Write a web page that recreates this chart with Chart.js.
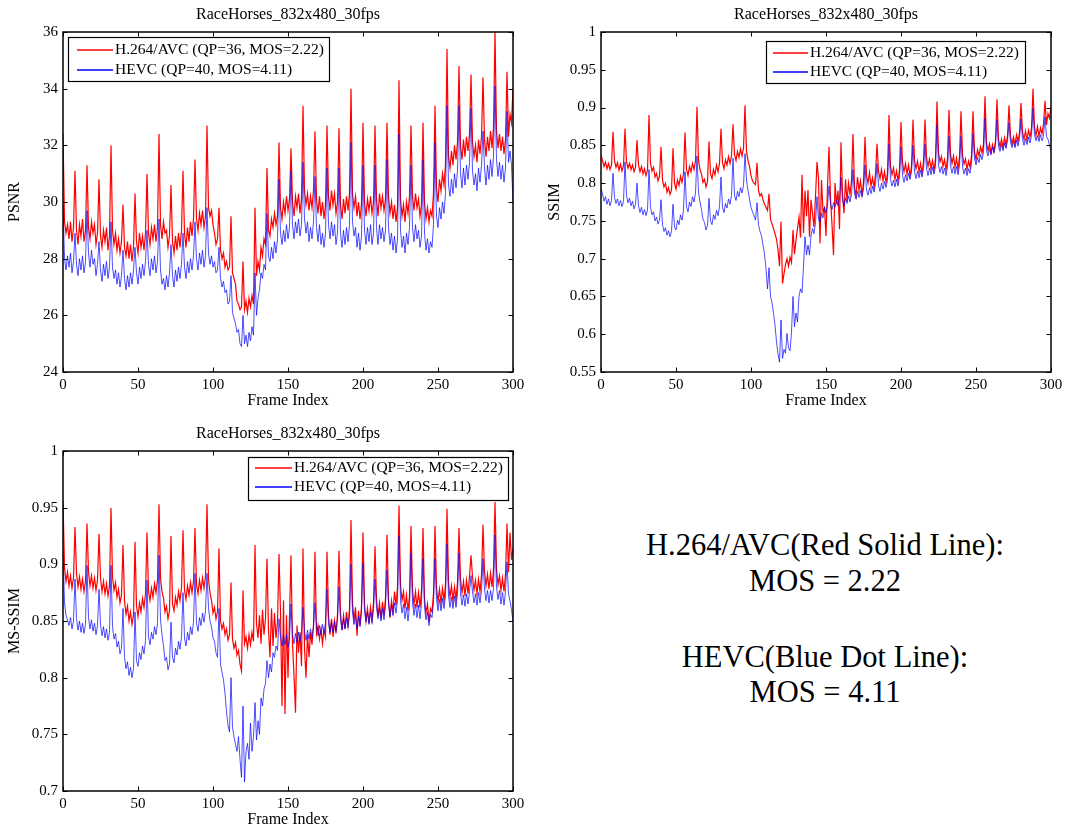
<!DOCTYPE html>
<html>
<head>
<meta charset="utf-8">
<title>RaceHorses_832x480_30fps</title>
<script src="https://cdn.jsdelivr.net/npm/chart.js@4.4.0/dist/chart.umd.min.js"></script>
<style>
  body { margin: 0; background: #fff; width: 1067px; height: 833px; position: relative; overflow: hidden; font-family: "Liberation Serif", "Times New Roman", serif; }
  .plot { position: absolute; }
  .note { position: absolute; left: 600px; width: 450px; text-align: center; font-size: 30.5px; line-height: 30px; color: #000; white-space: nowrap; }
</style>
</head>
<body>
<div class="plot" style="left:0;top:0"><canvas id="psnr" width="530" height="420"></canvas></div>
<div class="plot" style="left:540px;top:0"><canvas id="ssim" width="527" height="420"></canvas></div>
<div class="plot" style="left:0;top:420px"><canvas id="msssim" width="530" height="413"></canvas></div>
<div class="note" style="top:530px">H.264/AVC(Red Solid Line):</div>
<div class="note" style="top:566px">MOS = 2.22</div>
<div class="note" style="top:642px">HEVC(Blue Dot Line):</div>
<div class="note" style="top:677px">MOS = 4.11</div>
<script>
const serif = '"Liberation Serif", "Times New Roman", serif'
Chart.defaults.font.family = serif
Chart.defaults.color = '#000'

const seqName = 'RaceHorses_832x480_30fps'
const avcLabel = 'H.264/AVC (QP=36, MOS=2.22)'
const hevcLabel = 'HEVC (QP=40, MOS=4.11)'

// frame numbers 0..300
const frames = Array.from({ length: 301 }, (_, i) => i)

// per-frame PSNR (dB), one row per 8-frame GOP
const psnrAvc = [
  32.4,29.3,28.9,29.2,28.7,29.3,28.6,29.1,
  31.1,29.0,28.5,29.2,28.8,29.4,28.6,29.0,
  31.3,29.1,28.7,29.3,28.9,29.2,28.5,28.9,
  30.8,28.8,28.4,29.0,28.6,29.1,28.3,28.8,
  32.0,29.0,28.5,28.9,28.3,28.7,28.2,28.6,
  29.9,28.4,28.1,28.6,28.0,28.5,27.9,28.4,
  30.3,28.6,28.2,28.9,28.4,28.8,28.3,28.9,
  31.0,28.9,28.5,29.1,28.7,29.2,28.6,29.1,
  32.4,29.2,28.7,29.3,28.9,29.0,28.4,28.8,
  30.6,28.6,28.2,28.8,28.3,28.9,28.4,29.0,
  31.1,28.9,28.4,29.1,28.6,29.3,28.8,29.4,
  31.5,29.4,29.0,29.6,29.2,29.7,29.1,29.5,
  32.7,29.8,29.5,29.7,29.2,28.9,28.5,28.7,
  29.8,28.3,28.0,28.2,27.7,27.9,27.6,27.7,
  29.5,27.5,27.3,27.1,26.5,26.4,26.2,26.3,
  27.9,26.2,26.5,26.1,26.6,26.3,26.7,26.4,
  29.8,27.4,27.9,27.6,28.4,28.1,28.7,28.5,
  31.2,29.0,28.8,29.4,29.1,29.6,29.2,29.5,
  32.1,29.8,29.4,30.0,29.6,30.2,29.7,30.1,
  31.9,30.0,29.5,30.2,29.8,30.3,29.6,30.1,
  33.4,30.4,29.9,30.3,29.7,30.2,29.8,30.4,
  32.5,30.1,29.6,30.2,29.5,30.0,29.4,29.9,
  32.7,30.2,29.7,30.4,29.9,30.3,29.6,30.0,
  32.6,29.9,29.4,30.1,29.6,30.2,29.7,30.3,
  34.0,30.3,29.8,30.2,29.5,30.0,29.4,29.9,
  32.8,30.0,29.5,30.1,29.7,30.2,29.6,30.0,
  32.7,30.1,29.5,30.3,29.8,30.2,29.7,30.1,
  32.8,30.2,29.6,30.0,29.4,29.9,29.3,29.8,
  34.3,30.1,29.5,29.9,29.3,30.0,29.6,30.2,
  32.7,30.2,29.7,30.3,29.8,30.1,29.5,29.9,
  32.8,30.0,29.4,29.8,29.3,29.7,29.5,30.3,
  33.4,30.5,30.0,30.8,30.4,31.0,30.6,31.3,
  35.4,31.6,31.2,31.8,31.3,32.0,31.5,32.1,
  34.8,32.0,31.5,32.2,31.6,32.3,31.8,32.4,
  34.5,32.1,31.6,32.0,31.4,32.2,31.7,32.3,
  34.4,32.2,31.6,32.3,31.8,32.5,31.9,32.6,
  36.0,32.5,31.9,32.4,31.8,32.3,31.7,32.2,
  34.6,32.3,33.1,32.8,34.0
]
const psnrHevc = [
  29.9,28.0,27.6,28.1,27.7,28.2,27.5,27.9,
  28.9,27.8,27.4,28.0,27.6,28.1,27.5,27.9,
  29.7,28.2,27.7,28.3,27.8,28.0,27.4,27.8,
  28.6,27.6,27.2,27.8,27.4,27.9,27.3,27.7,
  29.3,27.7,27.3,27.6,27.1,27.5,27.0,27.4,
  28.3,27.3,26.9,27.4,27.0,27.5,27.1,27.6,
  28.4,27.5,27.1,27.7,27.3,27.8,27.4,27.9,
  29.0,27.8,27.4,28.0,27.6,28.1,27.5,27.9,
  29.4,27.6,27.1,27.3,26.9,27.4,27.0,27.5,
  28.5,27.4,27.0,27.6,27.2,27.7,27.3,27.8,
  28.9,27.7,27.3,27.9,27.5,28.0,27.6,28.1,
  29.3,28.0,27.6,28.2,27.8,28.3,27.7,28.1,
  29.8,28.2,27.8,28.1,27.7,27.9,27.5,27.6,
  28.4,27.3,27.0,27.2,26.8,26.9,26.4,26.5,
  27.4,26.1,25.9,25.7,25.4,25.5,25.0,24.9,
  26.0,25.0,25.3,24.9,25.4,25.1,25.6,25.3,
  27.5,26.0,26.6,26.9,27.5,27.3,27.8,27.6,
  29.6,28.1,27.9,28.4,28.0,28.6,28.2,28.7,
  30.8,28.9,28.5,29.0,28.6,29.2,28.7,29.1,
  31.1,29.2,28.7,29.3,28.9,29.4,28.8,29.2,
  31.4,29.4,28.9,29.3,28.6,29.1,28.7,29.3,
  30.9,29.1,28.6,29.2,28.5,28.9,28.4,28.9,
  31.2,29.2,28.7,29.3,28.8,29.2,28.5,28.9,
  31.2,28.9,28.4,29.0,28.5,29.1,28.6,29.2,
  32.1,29.3,28.8,29.1,28.4,28.9,28.3,28.8,
  31.3,29.0,28.5,29.1,28.6,29.2,28.5,28.9,
  31.3,29.1,28.5,29.2,28.7,29.1,28.6,29.0,
  31.5,29.1,28.5,28.9,28.3,28.8,28.2,28.7,
  32.4,29.0,28.4,28.8,28.2,28.9,28.5,29.1,
  31.3,29.1,28.6,29.2,28.7,29.0,28.4,28.8,
  31.5,28.9,28.3,28.7,28.2,28.6,28.4,29.2,
  32.1,29.5,29.1,29.8,29.4,30.0,29.6,30.3,
  33.4,30.6,30.2,30.8,30.3,31.0,30.5,31.1,
  33.4,31.0,30.5,31.2,30.6,31.3,30.8,31.4,
  33.3,31.1,30.6,31.0,30.4,31.2,30.7,31.3,
  32.5,31.2,30.6,31.3,30.8,31.5,30.9,31.6,
  34.1,31.5,30.9,31.4,30.8,31.3,30.7,31.2,
  33.2,31.4,31.8,31.3,30.0
]

// per-frame SSIM
const ssimAvc = [
  0.837,0.830,0.822,0.828,0.819,0.826,0.818,0.824,
  0.868,0.829,0.821,0.827,0.817,0.825,0.816,0.823,
  0.872,0.828,0.820,0.826,0.818,0.824,0.815,0.821,
  0.857,0.824,0.815,0.822,0.812,0.819,0.810,0.817,
  0.890,0.826,0.816,0.821,0.808,0.813,0.803,0.809,
  0.848,0.804,0.795,0.800,0.788,0.794,0.785,0.791,
  0.846,0.800,0.792,0.804,0.797,0.809,0.801,0.812,
  0.867,0.818,0.810,0.822,0.815,0.826,0.818,0.829,
  0.901,0.830,0.818,0.812,0.801,0.805,0.795,0.802,
  0.855,0.812,0.806,0.818,0.811,0.824,0.815,0.826,
  0.872,0.827,0.819,0.831,0.824,0.835,0.826,0.836,
  0.878,0.838,0.830,0.842,0.834,0.845,0.836,0.846,
  0.903,0.842,0.830,0.822,0.810,0.803,0.800,0.798,
  0.827,0.790,0.783,0.786,0.778,0.772,0.768,0.764,
  0.786,0.752,0.746,0.740,0.733,0.726,0.712,0.690,
  0.749,0.667,0.680,0.692,0.700,0.690,0.702,0.695,
  0.738,0.706,0.725,0.740,0.755,0.728,0.811,0.734,
  0.790,0.756,0.791,0.729,0.778,0.760,0.742,0.782,
  0.828,0.806,0.720,0.804,0.762,0.767,0.730,0.795,
  0.848,0.780,0.745,0.705,0.800,0.772,0.790,0.739,
  0.854,0.786,0.760,0.805,0.776,0.800,0.785,0.803,
  0.865,0.795,0.783,0.808,0.790,0.803,0.785,0.800,
  0.861,0.810,0.800,0.814,0.796,0.807,0.794,0.812,
  0.852,0.816,0.806,0.818,0.803,0.815,0.801,0.813,
  0.890,0.822,0.811,0.820,0.805,0.816,0.803,0.818,
  0.881,0.827,0.815,0.826,0.812,0.824,0.810,0.822,
  0.884,0.830,0.819,0.829,0.815,0.826,0.813,0.828,
  0.884,0.834,0.822,0.832,0.819,0.830,0.817,0.831,
  0.908,0.840,0.828,0.835,0.822,0.831,0.818,0.832,
  0.897,0.839,0.826,0.836,0.821,0.833,0.819,0.834,
  0.895,0.838,0.825,0.832,0.818,0.829,0.821,0.836,
  0.895,0.842,0.831,0.844,0.836,0.848,0.840,0.851,
  0.915,0.853,0.843,0.852,0.840,0.851,0.842,0.856,
  0.911,0.858,0.848,0.858,0.847,0.860,0.850,0.862,
  0.903,0.862,0.852,0.861,0.851,0.864,0.855,0.867,
  0.906,0.868,0.858,0.869,0.857,0.870,0.861,0.872,
  0.925,0.874,0.863,0.875,0.862,0.873,0.865,0.878,
  0.909,0.877,0.892,0.886,0.901
]
const ssimHevc = [
  0.793,0.786,0.776,0.782,0.772,0.779,0.770,0.777,
  0.813,0.781,0.773,0.779,0.770,0.777,0.769,0.776,
  0.828,0.784,0.774,0.780,0.770,0.776,0.766,0.772,
  0.800,0.770,0.761,0.768,0.758,0.765,0.757,0.764,
  0.818,0.768,0.758,0.762,0.750,0.755,0.746,0.751,
  0.778,0.745,0.736,0.741,0.731,0.737,0.729,0.736,
  0.772,0.742,0.738,0.751,0.745,0.758,0.751,0.764,
  0.815,0.769,0.762,0.775,0.769,0.782,0.775,0.787,
  0.836,0.788,0.775,0.765,0.752,0.748,0.738,0.744,
  0.780,0.750,0.745,0.758,0.752,0.764,0.757,0.769,
  0.808,0.768,0.761,0.773,0.767,0.779,0.772,0.784,
  0.833,0.784,0.777,0.789,0.782,0.794,0.787,0.797,
  0.839,0.804,0.790,0.779,0.768,0.762,0.757,0.751,
  0.774,0.745,0.736,0.730,0.718,0.706,0.687,0.660,
  0.688,0.650,0.642,0.628,0.612,0.590,0.574,0.563,
  0.619,0.568,0.580,0.575,0.601,0.582,0.578,0.603,
  0.650,0.610,0.628,0.616,0.650,0.660,0.655,0.690,
  0.729,0.705,0.718,0.705,0.730,0.740,0.733,0.748,
  0.782,0.752,0.748,0.760,0.754,0.768,0.760,0.771,
  0.796,0.772,0.765,0.774,0.768,0.778,0.770,0.779,
  0.808,0.778,0.770,0.780,0.773,0.783,0.775,0.785,
  0.818,0.786,0.779,0.789,0.781,0.790,0.782,0.792,
  0.824,0.791,0.784,0.794,0.786,0.796,0.788,0.798,
  0.826,0.797,0.789,0.800,0.792,0.802,0.794,0.804,
  0.852,0.805,0.796,0.804,0.795,0.805,0.796,0.808,
  0.848,0.810,0.801,0.811,0.803,0.813,0.805,0.815,
  0.850,0.815,0.806,0.816,0.807,0.817,0.808,0.819,
  0.852,0.819,0.810,0.820,0.811,0.821,0.812,0.822,
  0.877,0.824,0.814,0.822,0.812,0.820,0.810,0.821,
  0.862,0.823,0.813,0.822,0.812,0.822,0.811,0.823,
  0.862,0.822,0.812,0.820,0.810,0.819,0.813,0.826,
  0.866,0.832,0.824,0.834,0.827,0.838,0.831,0.841,
  0.886,0.843,0.836,0.845,0.838,0.848,0.840,0.850,
  0.884,0.849,0.842,0.851,0.843,0.853,0.846,0.856,
  0.880,0.854,0.847,0.855,0.847,0.857,0.849,0.859,
  0.885,0.858,0.850,0.859,0.851,0.861,0.853,0.863,
  0.899,0.864,0.856,0.863,0.855,0.864,0.856,0.862,
  0.888,0.862,0.858,0.850,0.843
]

// per-frame MS-SSIM
const msssimAvc = [
  0.956,0.897,0.885,0.893,0.881,0.890,0.879,0.888,
  0.933,0.892,0.880,0.889,0.878,0.887,0.876,0.885,
  0.936,0.893,0.881,0.890,0.879,0.888,0.877,0.886,
  0.927,0.888,0.876,0.885,0.874,0.883,0.872,0.881,
  0.950,0.889,0.877,0.884,0.871,0.878,0.866,0.873,
  0.917,0.868,0.856,0.863,0.850,0.858,0.847,0.855,
  0.920,0.863,0.854,0.866,0.858,0.870,0.862,0.874,
  0.928,0.876,0.868,0.879,0.871,0.883,0.875,0.886,
  0.953,0.888,0.876,0.870,0.858,0.863,0.852,0.859,
  0.925,0.865,0.859,0.871,0.864,0.876,0.868,0.879,
  0.930,0.877,0.869,0.881,0.873,0.884,0.875,0.885,
  0.932,0.882,0.874,0.886,0.877,0.888,0.879,0.889,
  0.953,0.887,0.875,0.868,0.857,0.862,0.852,0.858,
  0.914,0.850,0.843,0.848,0.838,0.843,0.833,0.838,
  0.884,0.834,0.826,0.831,0.820,0.824,0.812,0.806,
  0.877,0.830,0.836,0.826,0.838,0.829,0.840,0.832,
  0.917,0.848,0.835,0.855,0.830,0.860,0.838,0.852,
  0.905,0.842,0.818,0.861,0.828,0.857,0.835,0.849,
  0.909,0.858,0.775,0.868,0.768,0.855,0.800,0.853,
  0.908,0.830,0.802,0.769,0.846,0.822,0.840,0.810,
  0.914,0.826,0.800,0.838,0.818,0.840,0.829,0.846,
  0.911,0.839,0.846,0.834,0.843,0.830,0.842,0.836,
  0.911,0.855,0.838,0.852,0.836,0.850,0.839,0.856,
  0.912,0.857,0.842,0.855,0.843,0.858,0.846,0.860,
  0.939,0.866,0.851,0.862,0.837,0.859,0.846,0.863,
  0.928,0.865,0.850,0.861,0.848,0.862,0.851,0.866,
  0.916,0.869,0.854,0.866,0.852,0.867,0.855,0.870,
  0.926,0.869,0.853,0.868,0.858,0.876,0.864,0.880,
  0.952,0.882,0.868,0.876,0.861,0.873,0.859,0.872,
  0.934,0.878,0.864,0.876,0.862,0.875,0.862,0.877,
  0.932,0.870,0.857,0.865,0.849,0.861,0.858,0.874,
  0.934,0.880,0.867,0.878,0.866,0.879,0.868,0.882,
  0.949,0.884,0.871,0.881,0.868,0.880,0.869,0.884,
  0.932,0.887,0.875,0.885,0.872,0.886,0.874,0.889,
  0.908,0.889,0.877,0.886,0.874,0.887,0.876,0.890,
  0.935,0.894,0.881,0.891,0.878,0.892,0.880,0.895,
  0.955,0.896,0.882,0.890,0.877,0.888,0.876,0.891,
  0.936,0.893,0.928,0.904,0.914
]
const msssimHevc = [
  0.912,0.866,0.855,0.851,0.846,0.853,0.843,0.850,
  0.887,0.852,0.842,0.850,0.840,0.848,0.839,0.847,
  0.899,0.853,0.843,0.851,0.841,0.848,0.838,0.846,
  0.878,0.847,0.837,0.845,0.835,0.843,0.833,0.840,
  0.899,0.845,0.834,0.839,0.827,0.832,0.821,0.826,
  0.861,0.818,0.808,0.814,0.802,0.809,0.800,0.808,
  0.858,0.815,0.810,0.822,0.816,0.828,0.821,0.833,
  0.886,0.836,0.829,0.840,0.834,0.845,0.838,0.848,
  0.908,0.851,0.838,0.828,0.815,0.818,0.807,0.812,
  0.849,0.818,0.813,0.826,0.820,0.832,0.825,0.836,
  0.875,0.835,0.828,0.840,0.833,0.845,0.838,0.849,
  0.892,0.848,0.841,0.853,0.846,0.857,0.849,0.859,
  0.892,0.862,0.850,0.845,0.835,0.832,0.822,0.818,
  0.861,0.812,0.805,0.798,0.786,0.770,0.758,0.752,
  0.800,0.756,0.748,0.741,0.735,0.748,0.728,0.712,
  0.775,0.708,0.735,0.742,0.728,0.760,0.735,0.748,
  0.778,0.745,0.762,0.750,0.782,0.775,0.790,0.795,
  0.815,0.800,0.812,0.805,0.822,0.818,0.828,0.824,
  0.852,0.836,0.828,0.837,0.829,0.838,0.827,0.834,
  0.865,0.838,0.830,0.839,0.831,0.840,0.832,0.841,
  0.862,0.841,0.833,0.842,0.834,0.843,0.835,0.845,
  0.866,0.845,0.837,0.846,0.838,0.847,0.839,0.849,
  0.878,0.848,0.840,0.849,0.840,0.850,0.841,0.851,
  0.880,0.851,0.842,0.852,0.843,0.853,0.844,0.855,
  0.900,0.857,0.847,0.855,0.843,0.854,0.845,0.858,
  0.901,0.859,0.849,0.858,0.847,0.858,0.848,0.861,
  0.887,0.862,0.852,0.861,0.850,0.861,0.851,0.864,
  0.895,0.865,0.854,0.864,0.855,0.866,0.857,0.868,
  0.925,0.868,0.857,0.865,0.852,0.862,0.850,0.863,
  0.910,0.866,0.855,0.865,0.853,0.864,0.852,0.866,
  0.905,0.862,0.851,0.858,0.846,0.856,0.853,0.866,
  0.905,0.869,0.859,0.869,0.859,0.870,0.861,0.872,
  0.918,0.872,0.862,0.871,0.861,0.872,0.862,0.874,
  0.910,0.874,0.864,0.873,0.863,0.874,0.865,0.876,
  0.890,0.876,0.866,0.874,0.864,0.875,0.866,0.877,
  0.905,0.878,0.868,0.877,0.866,0.877,0.868,0.879,
  0.926,0.880,0.869,0.877,0.865,0.875,0.864,0.876,
  0.902,0.874,0.868,0.860,0.850
]

const fmt = v => String(Math.round(v * 100) / 100)

// axes box with inward ticks on all four sides, title and boxed legend
const matlabAxes = {
  id: 'matlabAxes',
  afterDatasetsDraw(chart, args, opts) {
    const { ctx, chartArea: a, scales: { x, y } } = chart
    ctx.save()
    ctx.strokeStyle = '#000'
    ctx.lineWidth = 1
    ctx.beginPath()
    x.ticks.forEach(t => {
      const px = Math.round(x.getPixelForValue(t.value)) + 0.5
      ctx.moveTo(px, a.bottom); ctx.lineTo(px, a.bottom - 4.5)
      ctx.moveTo(px, a.top); ctx.lineTo(px, a.top + 4.5)
    })
    y.ticks.forEach(t => {
      const py = Math.round(y.getPixelForValue(t.value)) + 0.5
      ctx.moveTo(a.left, py); ctx.lineTo(a.left + 4.5, py)
      ctx.moveTo(a.right, py); ctx.lineTo(a.right - 4.5, py)
    })
    ctx.stroke()
    ctx.lineWidth = 1.5
    ctx.strokeRect(a.left, a.top, a.right - a.left, a.bottom - a.top)

    ctx.fillStyle = '#000'
    ctx.font = '16px ' + serif
    ctx.textAlign = 'center'
    ctx.textBaseline = 'middle'
    ctx.fillText(opts.title, (a.left + a.right) / 2, opts.titleY)

    const L = opts.legend
    ctx.fillStyle = '#fff'
    ctx.fillRect(L.x, L.y, L.w, L.h)
    ctx.lineWidth = 1.2
    ctx.strokeRect(L.x + 0.5, L.y + 0.5, L.w, L.h)
    ctx.font = '15.5px ' + serif
    ctx.textAlign = 'left'
    chart.data.datasets.forEach((ds, i) => {
      const ry = L.rows[i]
      ctx.strokeStyle = ds.borderColor
      ctx.lineWidth = 1.3
      ctx.beginPath()
      ctx.moveTo(L.x1, ry); ctx.lineTo(L.x2, ry)
      ctx.stroke()
      ctx.fillStyle = '#000'
      ctx.fillText(ds.label, L.tx, ry)
    })
    ctx.restore()
  }
}

function makeChart(id, cfg) {
  const toPoints = arr => arr.map((v, i) => ({ x: frames[i], y: v }))
  const tickFont = { family: serif, size: 15 }
  const labelFont = { family: serif, size: 16 }
  return new Chart(document.getElementById(id), {
    type: 'line',
    data: {
      datasets: [
        { label: avcLabel, data: toPoints(cfg.avc), borderColor: '#ff0000', borderWidth: 1.2, pointRadius: 0, order: 2 },
        { label: hevcLabel, data: toPoints(cfg.hevc), borderColor: '#0000ff', borderWidth: 0.7, pointRadius: 0, order: 1 }
      ]
    },
    options: {
      responsive: false,
      animation: false,
      events: [],
      layout: { padding: cfg.padding },
      plugins: {
        legend: { display: false },
        tooltip: { enabled: false },
        matlabAxes: { title: seqName, titleY: cfg.titleY, legend: cfg.legend }
      },
      scales: {
        x: {
          type: 'linear', min: 0, max: 300,
          grid: { display: false, drawTicks: false },
          border: { display: false },
          ticks: { stepSize: 50, autoSkip: false, maxRotation: 0, padding: 4, color: '#000', font: tickFont, callback: fmt },
          title: { display: true, text: 'Frame Index', color: '#000', font: labelFont, padding: { top: 0, bottom: cfg.xTitlePad } },
          afterFit: s => { s.height = cfg.xHeight }
        },
        y: {
          min: cfg.yMin, max: cfg.yMax,
          grid: { display: false, drawTicks: false },
          border: { display: false },
          ticks: { stepSize: cfg.yStep, autoSkip: false, padding: 5, color: '#000', font: tickFont, callback: fmt },
          title: { display: true, text: cfg.yLabel, color: '#000', font: labelFont, padding: { top: 5, bottom: 0 } },
          afterFit: s => { s.width = cfg.yWidth }
        }
      }
    },
    plugins: [matlabAxes]
  })
}

makeChart('psnr', {
  avc: psnrAvc, hevc: psnrHevc, yLabel: 'PSNR', yMin: 24, yMax: 36, yStep: 2,
  padding: { top: 32, right: 17, bottom: 0, left: 0 }, yWidth: 63, xHeight: 48, xTitlePad: 9.4, titleY: 15,
  legend: { x: 68, y: 37, w: 261, h: 44, rows: [50, 70], x1: 77, x2: 113, tx: 115 }
})

makeChart('ssim', {
  avc: ssimAvc, hevc: ssimHevc, yLabel: 'SSIM', yMin: 0.55, yMax: 1, yStep: 0.05,
  padding: { top: 32, right: 16, bottom: 0, left: 0 }, yWidth: 61, xHeight: 48, xTitlePad: 9.4, titleY: 15,
  legend: { x: 226, y: 41, w: 259, h: 42, rows: [53, 72], x1: 233, x2: 268, tx: 270 }
})

makeChart('msssim', {
  avc: msssimAvc, hevc: msssimHevc, yLabel: 'MS-SSIM', yMin: 0.7, yMax: 1, yStep: 0.05,
  padding: { top: 31, right: 17, bottom: 0, left: 0 }, yWidth: 63, xHeight: 42, xTitlePad: 3.4, titleY: 14,
  legend: { x: 248, y: 37, w: 260, h: 43, rows: [48, 67], x1: 255, x2: 292, tx: 294 }
})
</script>
</body>
</html>
